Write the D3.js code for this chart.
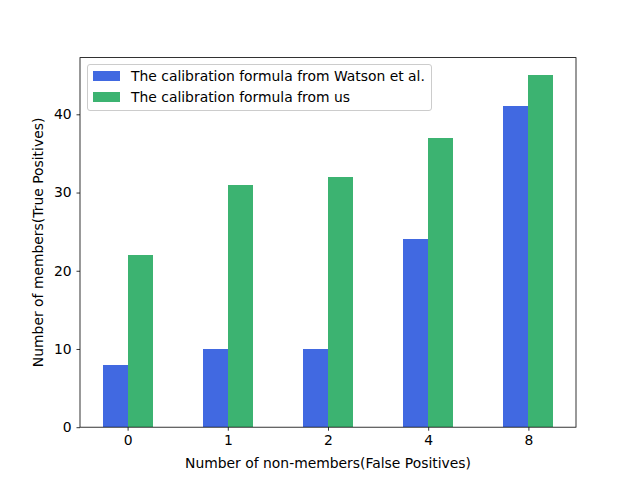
<!DOCTYPE html>
<meta charset="utf-8">
<style>
    body { margin: 0; background: #fff; }
    text { font-family: "DejaVu Sans", sans-serif; fill: #000; }
    .tick text { font-size: 13.9px; }
    .bar { shape-rendering: crispEdges; }
</style>
<svg width="640" height="480"></svg>

<script src="https://d3js.org/d3.v7.min.js"></script>
<script>
    var categories = ["0", "1", "2", "4", "8"];
    var watson = [8, 10, 10, 24, 41];
    var ours = [22, 31, 32, 37, 45];
    var seriesNames = ["The calibration formula from Watson et al.", "The calibration formula from us"];
    var yTicks = [0, 10, 20, 30, 40];

    var svg = d3.select("svg"),
        plotLeft = 80, plotRight = 576, plotTop = 57.6, plotBottom = 427.2;

    var x = d3.scaleLinear().domain([-0.475, 4.475]).range([plotLeft, plotRight]);
    var y = d3.scaleLinear().domain([0, 47.25]).range([plotBottom, plotTop]);
    var barW = 0.25;
    var colors = ["#4169E1", "#3CB371"];

    var series = [watson, ours];
    series.forEach(function(vals, s) {
        svg.append("g").selectAll("rect")
            .data(vals)
            .enter().append("rect")
            .attr("class", "bar")
            .attr("x", function(d, i) { return x(i - barW + s * barW); })
            .attr("width", x(barW) - x(0))
            .attr("y", function(d) { return y(d); })
            .attr("height", function(d) { return y(0) - y(d); })
            .attr("fill", colors[s]);
    });

    // frame
    svg.append("rect")
        .attr("x", plotLeft).attr("y", plotTop)
        .attr("width", plotRight - plotLeft).attr("height", plotBottom - plotTop)
        .attr("fill", "none").attr("stroke", "#000").attr("stroke-width", 0.8);

    var xAxis = svg.append("g")
        .attr("transform", "translate(0," + plotBottom + ")")
        .call(d3.axisBottom(x).tickValues(d3.range(categories.length))
            .tickFormat(function(i) { return categories[i]; })
            .tickSize(3.5).tickPadding(4.9));
    var yAxis = svg.append("g")
        .attr("transform", "translate(" + plotLeft + ",0)")
        .call(d3.axisLeft(y).tickValues(yTicks).tickSize(3.5).tickPadding(4.9));
    [xAxis, yAxis].forEach(function(a) {
        a.attr("font-family", null).attr("font-size", null);
        a.select(".domain").remove();
        a.selectAll(".tick line").attr("stroke-width", 0.8);
    });

    svg.append("text")
        .attr("x", (plotLeft + plotRight) / 2).attr("y", 468)
        .attr("text-anchor", "middle").style("font-size", "13.9px")
        .text("Number of non-members(False Positives)");
    svg.append("text")
        .attr("transform", "translate(43," + (plotTop + plotBottom) / 2 + ") rotate(-90)")
        .attr("text-anchor", "middle").style("font-size", "13.9px")
        .text("Number of members(True Positives)");

    // legend
    var lg = svg.append("g");
    lg.append("rect")
        .attr("x", 87.5).attr("y", 64.5).attr("width", 344).attr("height", 46)
        .attr("rx", 2.5).attr("fill", "#fff").attr("fill-opacity", 0.8)
        .attr("stroke", "#ccc").attr("stroke-width", 1);
    seriesNames.forEach(function(name, i) {
        lg.append("rect")
            .attr("class", "bar")
            .attr("x", 93).attr("y", 71 + i * 21).attr("width", 27).attr("height", 10)
            .attr("fill", colors[i]);
        lg.append("text")
            .attr("x", 131).attr("y", 81 + i * 21)
            .style("font-size", "13.9px")
            .text(name);
    });
</script>
